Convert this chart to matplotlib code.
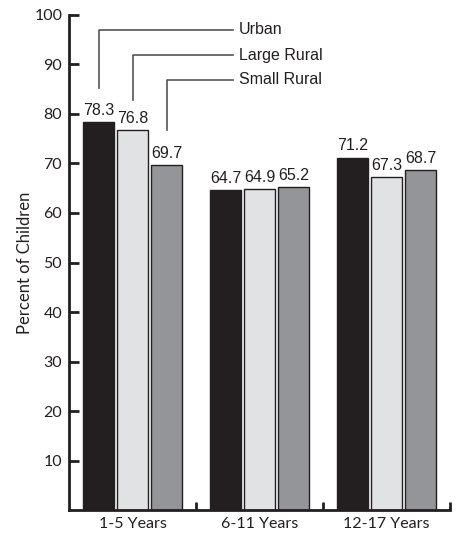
import matplotlib
matplotlib.use('Agg')
import matplotlib.pyplot as plt
import numpy as np

# data
groups = ['1-5 Years', '6-11 Years', '12-17 Years']
series = ['Urban', 'Large Rural', 'Small Rural']
urban = [78.3, 64.7, 71.2]
large_rural = [76.8, 64.9, 67.3]
small_rural = [69.7, 65.2, 68.7]
yticks = [10, 20, 30, 40, 50, 60, 70, 80, 90, 100]

colors = ['#231f20', '#e1e2e4', '#939598']
plt.rcParams['font.family'] = ['Lato', 'DejaVu Sans']
narrow = dict(family=['Liberation Sans', 'DejaVu Sans'])

fig = plt.figure(figsize=(4.61, 5.33), dpi=100)
ax = fig.add_axes([0.150, 0.043, 0.826, 0.929])

x = np.arange(len(groups))
width = 0.244
step = 0.268
values = [urban, large_rural, small_rural]
for k, vals in enumerate(values):
    pos = x + (k - 1) * step
    ax.bar(pos, vals, width=width, color=colors[k], edgecolor='#231f20', linewidth=1.0, zorder=2)
    for px, v in zip(pos, vals):
        ax.annotate(f'{v:.1f}', (px, v), xytext=(0, 3), textcoords='offset points',
                    ha='center', va='bottom', fontsize=11.5, color='#231f20', **narrow)

# leader lines to the series names (first group)
line_bottoms = [85.3, 82.8, 76.8]
line_tops = [97.0, 91.9, 86.9]
line_end = 0.79
for k in range(3):
    bx = x[0] + (k - 1) * step
    ax.plot([bx, bx, line_end], [line_bottoms[k], line_tops[k], line_tops[k]],
            color='#555557', linewidth=1.2, zorder=3, clip_on=False)
    ax.text(line_end + 0.05, line_tops[k], series[k], ha='left', va='center',
            fontsize=11.5, color='#231f20', **narrow)

ax.set_xlim(-0.5, 2.5)
ax.set_ylim(0, 100)
ax.set_yticks(yticks)
ax.set_yticklabels([str(t) for t in yticks], fontsize=11.5, color='#231f20')
ax.set_xticks(x)
ax.set_xticklabels(groups, fontsize=11.5, color='#231f20')
ax.tick_params(axis='x', length=0, pad=5)
ax.set_xticks([0.5, 1.5, 2.5], minor=True)
ax.tick_params(axis='x', which='minor', direction='in', length=6, width=2, color='#231f20')
ax.tick_params(axis='y', direction='in', length=7, width=2, color='#231f20', pad=5)
ax.set_ylabel('Percent of Children', fontsize=12, color='#231f20')
ax.yaxis.set_label_coords(-0.095, 0.5)

for s in ['top', 'right']:
    ax.spines[s].set_visible(False)
for s in ['left', 'bottom']:
    ax.spines[s].set_linewidth(2)
    ax.spines[s].set_color('#231f20')

fig.savefig('out.png', dpi=100)
